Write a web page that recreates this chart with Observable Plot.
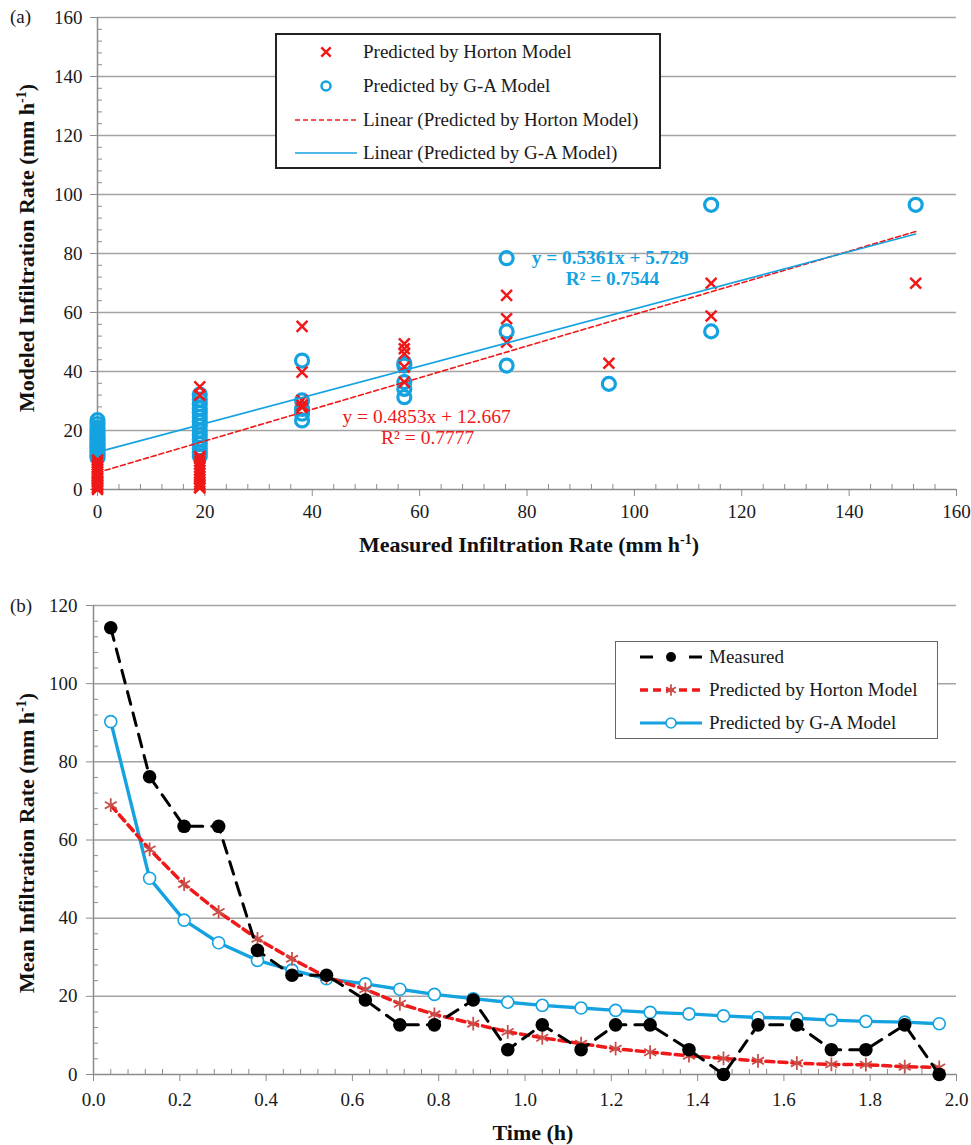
<!DOCTYPE html>
<html><head><meta charset="utf-8">
<script src="https://cdn.jsdelivr.net/npm/d3@7"></script>
<script src="https://cdn.jsdelivr.net/npm/@observablehq/plot@0.6"></script>
<style>
html,body{margin:0;padding:0;background:#fff;}
#wrap{position:relative;width:971px;height:1145px;overflow:hidden;font-family:"Liberation Serif","Times New Roman",serif;color:#1a1a1a;}
.panel{position:absolute;left:0;}
.legend{position:absolute;box-sizing:border-box;background:#fff;}
.row{position:absolute;left:0;right:0;height:24px;font-size:19px;white-space:nowrap;}
.row svg{position:absolute;top:2px;}
.row span{position:absolute;top:0;line-height:24px;}
.plabel{position:absolute;left:10px;font-size:19px;line-height:20px;}
</style></head>
<body><div id="wrap"></div>
<script>
// ---------------- Panel (a): modeled vs measured ----------------
const topXTicks = [0, 20, 40, 60, 80, 100, 120, 140, 160];
const topYTicks = [0, 20, 40, 60, 80, 100, 120, 140, 160];
const topMinorTicks = [4, 8, 12, 16, 24, 28, 32, 36, 44, 48, 52, 56, 64, 68, 72, 76, 84, 88, 92, 96, 104, 108, 112, 116, 124, 128, 132, 136, 144, 148, 152, 156];

// measured rate of each observation (mm/h)
const measuredTop = [
  0,0,0,0,0,0,0,0,0,0,0,0,0,0,0,0,
  19.05,19.05,19.05,19.05,19.05,19.05,19.05,19.05,19.05,19.05,19.05,19.05,19.05,19.05,19.05,
  38.1,38.1,38.1,38.1,38.1,
  57.15,57.15,57.15,57.15,57.15,
  76.2,76.2,76.2,
  95.25,
  114.3,114.3,
  152.4
];
const hortonTop = [
  0,0.5,1,1.5,2,2.5,3,3.8,4.5,5.2,6,6.8,7.5,8.3,9.2,10,
  0.5,1,1.8,2.5,3.5,4.5,5.5,6.5,7.5,8.5,9.5,10.5,11.2,32,34.8,
  55.3,39.8,30.2,28.6,27.8,
  49.4,47.7,46,41.5,36.4,
  65.8,57.9,49.9,
  42.8,
  69.9,58.8,
  69.9
];
const gaTop = [
  10.8,11.5,12.2,13,13.8,14.5,15.3,16,16.8,17.5,18.3,19.2,20,21,22.2,23.5,
  11.3,12.5,14,15.5,17,18.5,20,21.5,23,24.5,26,27.5,29,30.5,32.2,
  43.7,30.2,27.3,25.7,23.4,
  42,42.8,36.4,34.1,31.3,
  78.4,53.6,42,
  35.8,
  96.5,53.6,
  96.5
];
// linear fits as drawn (red dashed, blue solid)
const fitSlope = [0.5361, 0.4853];
const fitIntercept = [5.729, 12.667];
// equation labels (anchored in data units)
const eqBlueText = ["y = 0.5361x + 5.729", "R² = 0.7544"];
const eqBlueX = [95.5, 95.9];
const eqBlueY = [78.6, 71.5];
const eqRedText = ["y = 0.4853x + 12.667", "R² = 0.7777"];
const eqRedX = [61.3, 61.5];
const eqRedY = [24.8, 17.7];
const topLegendLabels = ["Predicted by Horton Model", "Predicted by G-A Model", "Linear (Predicted by Horton Model)", "Linear (Predicted by G-A Model)"];
const topXTitle = "Measured Infiltration Rate (mm h";
const topYTitle = "Modeled Infiltration Rate (mm h";

// ---------------- Panel (b): time series ----------------
const timeH = [0.04,0.13,0.21,0.29,0.38,0.46,0.54,0.63,0.71,0.79,0.88,0.96,1.04,1.13,1.21,1.29,1.38,1.46,1.54,1.63,1.71,1.79,1.88,1.96];
const measuredB = [114.3,76.2,63.5,63.5,31.75,25.4,25.4,19.05,12.7,12.7,19.05,6.35,12.7,6.35,12.7,12.7,6.35,0,12.7,12.7,6.35,6.35,12.7,0];
const hortonB = [68.9,57.6,48.7,41.6,34.7,29.6,24.9,21.8,18.1,15.4,13.0,10.9,9.4,7.9,6.6,5.7,4.8,4.1,3.5,2.9,2.6,2.5,2.0,1.8];
const gaB = [90.3,50.2,39.5,33.7,29.2,26.7,24.5,23.2,21.8,20.5,19.4,18.5,17.7,17.0,16.4,15.9,15.5,15.0,14.6,14.4,13.9,13.6,13.4,13.0];
const botXTicks = [0, 0.2, 0.4, 0.6, 0.8, 1.0, 1.2, 1.4, 1.6, 1.8, 2.0];
const botXMinor = [0.04,0.08,0.12,0.16,0.24,0.28,0.32,0.36,0.44,0.48,0.52,0.56,0.64,0.68,0.72,0.76,0.84,0.88,0.92,0.96,1.04,1.08,1.12,1.16,1.24,1.28,1.32,1.36,1.44,1.48,1.52,1.56,1.64,1.68,1.72,1.76,1.84,1.88,1.92,1.96];
const botYTicks = [0, 20, 40, 60, 80, 100, 120];
const botYMinor = [4,8,12,16,24,28,32,36,44,48,52,56,64,68,72,76,84,88,92,96,104,108,112,116];
const botLegendLabels = ["Measured", "Predicted by Horton Model", "Predicted by G-A Model"];
const botXTitle = "Time (h)";
const botYTitle = "Mean Infiltration Rate (mm h";

// ---------------- styles ----------------
const RED = "#f01818", BLUE = "#14a3e0", STAR = "#c8504a", GRID = "#a3a3a3", AXIS = "#8c8c8c", INK = "#1a1a1a";
const FONT = "'Liberation Serif', 'Times New Roman', serif";
const wrap = document.getElementById("wrap");

// ---------------- panel (a) ----------------
const topRows = measuredTop.map((x, i) => ({x, horton: hortonTop[i], ga: gaTop[i]}));
const fitX = d3.extent(measuredTop);
const fitRows = fitSlope.flatMap((m, k) => fitX.map(x => ({k, x, y: m * x + fitIntercept[k]})));
const eqBlue = eqBlueText.map((t, i) => ({t, x: eqBlueX[i], y: eqBlueY[i]}));
const eqRed = eqRedText.map((t, i) => ({t, x: eqRedX[i], y: eqRedY[i]}));

const svgA = Plot.plot({
  width: 971, height: 560,
  marginLeft: 97, marginRight: 15, marginTop: 17, marginBottom: 71,
  style: {fontFamily: FONT, fontSize: "19px", color: INK, background: "transparent", overflow: "visible"},
  x: {domain: [0, 160]},
  y: {domain: [0, 160]},
  marks: [
    Plot.gridY(topYTicks.slice(1), {stroke: GRID, strokeOpacity: 1, strokeWidth: 1.5}),
    Plot.axisY(topMinorTicks, {tickSize: 5, dx: 5, fill: "none", stroke: AXIS, label: null}),
    Plot.axisX(topMinorTicks, {tickSize: 5, dy: -5, fill: "none", stroke: AXIS, label: null}),
    Plot.axisY(topYTicks, {tickSize: 7, tickPadding: 8, stroke: AXIS, fill: INK, fontSize: 19, label: null}),
    Plot.axisX(topXTicks, {tickSize: 7, tickPadding: 8, stroke: AXIS, fill: INK, fontSize: 19, label: null}),
    Plot.ruleX([0], {stroke: AXIS, strokeWidth: 1.5}),
    Plot.ruleY([0], {stroke: AXIS, strokeWidth: 1.5}),
    Plot.dot(topRows, {x: "x", y: "ga", r: 6.5, stroke: BLUE, strokeWidth: 3.2, fill: "none"}),
    Plot.dot(topRows, {x: "x", y: "horton", symbol: "times", r: 5, stroke: RED, strokeWidth: 2.5}),
    Plot.line(fitRows.filter(d => d.k === 0), {x: "x", y: "y", stroke: RED, strokeWidth: 1.6, strokeDasharray: "5,3"}),
    Plot.line(fitRows.filter(d => d.k === 1), {x: "x", y: "y", stroke: BLUE, strokeWidth: 1.6}),
    Plot.text(eqBlue, {x: "x", y: "y", text: "t", fill: BLUE, fontWeight: "bold", fontSize: 19.3}),
    Plot.text(eqRed, {x: "x", y: "y", text: "t", fill: RED, fontSize: 19.5})
  ]
});
svgA.classList.add("panel");
svgA.style.top = "0px";
wrap.appendChild(svgA);

function axisTitle(svg, x, y, rot, main, sup) {
  const t = d3.select(svg).append("text")
    .attr("transform", `translate(${x},${y}) rotate(${rot})`)
    .attr("text-anchor", "middle").attr("font-family", FONT).attr("font-weight", "bold")
    .attr("font-size", 22).attr("fill", "#111");
  t.append("tspan").text(main);
  if (sup) {
    t.append("tspan").attr("dy", -8).attr("font-size", 14).text(sup);
    t.append("tspan").attr("dy", 8).text(")");
  }
}
axisTitle(svgA, 529, 552, 0, topXTitle, "-1");
axisTitle(svgA, 34, 248, -90, topYTitle, "-1");

// ---------------- panel (b) ----------------
const botRows = timeH.map((t, i) => ({t, measured: measuredB[i], horton: hortonB[i], ga: gaB[i]}));

const svgB = Plot.plot({
  width: 971, height: 560,
  marginLeft: 93, marginRight: 15, marginTop: 20, marginBottom: 71,
  style: {fontFamily: FONT, fontSize: "19px", color: INK, background: "transparent", overflow: "visible"},
  x: {domain: [0, 2]},
  y: {domain: [0, 120]},
  marks: [
    Plot.gridY(botYTicks.slice(1), {stroke: GRID, strokeOpacity: 1, strokeWidth: 1.5}),
    Plot.axisY(botYMinor, {tickSize: 5, dx: 5, fill: "none", stroke: AXIS, label: null}),
    Plot.axisX(botXMinor, {tickSize: 5, dy: -5, fill: "none", stroke: AXIS, label: null}),
    Plot.axisY(botYTicks, {tickSize: 7, tickPadding: 9, stroke: AXIS, fill: INK, fontSize: 19, label: null}),
    Plot.axisX(botXTicks, {tickSize: 7, tickPadding: 11, stroke: AXIS, fill: INK, fontSize: 19, label: null, tickFormat: d3.format(".1f")}),
    Plot.ruleX([0], {stroke: AXIS, strokeWidth: 1.5}),
    Plot.ruleY([0], {stroke: AXIS, strokeWidth: 1.5}),
    Plot.line(botRows, {x: "t", y: "ga", stroke: BLUE, strokeWidth: 3.4}),
    Plot.dot(botRows, {x: "t", y: "ga", r: 6, stroke: BLUE, strokeWidth: 1.6, fill: "white"}),
    Plot.line(botRows, {x: "t", y: "horton", stroke: RED, strokeWidth: 3.5, strokeDasharray: "8,5"}),
    Plot.dot(botRows, {x: "t", y: "horton", symbol: "asterisk", r: 6.5, stroke: STAR, strokeWidth: 1.8}),
    Plot.line(botRows, {x: "t", y: "measured", stroke: "#000", strokeWidth: 3, strokeDasharray: "13,9"}),
    Plot.dot(botRows, {x: "t", y: "measured", r: 6.8, fill: "#000"})
  ]
});
svgB.classList.add("panel");
svgB.style.top = "585px";
wrap.appendChild(svgB);
axisTitle(svgB, 533, 555, 0, botXTitle, null);
axisTitle(svgB, 34, 258, -90, botYTitle, "-1");

// ---------------- panel labels ----------------
[["(a)", 7], ["(b)", 596]].forEach(([t, top]) => {
  const d = document.createElement("div");
  d.className = "plabel"; d.style.top = top + "px"; d.textContent = t;
  wrap.appendChild(d);
});

// ---------------- legends ----------------
function legend({left, top, width, height, border, centers, symLeft, symWidth, textLeft, labels, draw}) {
  const box = document.createElement("div");
  box.className = "legend";
  Object.assign(box.style, {left: left + "px", top: top + "px", width: width + "px", height: height + "px", border});
  labels.forEach((lab, i) => {
    const row = document.createElement("div");
    row.className = "row";
    row.style.top = (centers[i] - 12) + "px";
    const s = d3.create("svg").attr("width", symWidth).attr("height", 20)
      .style("left", symLeft + "px").style("overflow", "visible");
    draw[i](s, symWidth);
    row.appendChild(s.node());
    const sp = document.createElement("span");
    sp.style.left = textLeft + "px";
    sp.textContent = lab;
    row.appendChild(sp);
    box.appendChild(row);
  });
  wrap.appendChild(box);
}

legend({
  left: 275, top: 33, width: 386, height: 136, border: "2px solid #222",
  centers: [17, 51, 85, 118], symLeft: 18, symWidth: 62, textLeft: 86,
  labels: topLegendLabels,
  draw: [
    (s, w) => s.append("path").attr("d", d3.symbol(d3.symbolTimes, 60)()).attr("transform", `translate(${w / 2},10)`)
      .attr("stroke", RED).attr("stroke-width", 2.5).attr("fill", "none"),
    (s, w) => s.append("circle").attr("cx", w / 2).attr("cy", 10).attr("r", 4.5).attr("stroke", BLUE).attr("stroke-width", 2.5).attr("fill", "none"),
    (s, w) => s.append("line").attr("x1", 0).attr("x2", w).attr("y1", 10).attr("y2", 10).attr("stroke", RED).attr("stroke-width", 1.6).attr("stroke-dasharray", "5,3"),
    (s, w) => s.append("line").attr("x1", 0).attr("x2", w).attr("y1", 10).attr("y2", 10).attr("stroke", BLUE).attr("stroke-width", 1.6)
  ]
});

legend({
  left: 615, top: 641, width: 323, height: 98, border: "1.5px solid #666",
  centers: [15, 48, 81], symLeft: 24, symWidth: 62, textLeft: 93,
  labels: botLegendLabels,
  draw: [
    (s, w) => {
      s.append("line").attr("x1", 0).attr("x2", 13).attr("y1", 10).attr("y2", 10).attr("stroke", "#000").attr("stroke-width", 3);
      s.append("line").attr("x1", w - 13).attr("x2", w).attr("y1", 10).attr("y2", 10).attr("stroke", "#000").attr("stroke-width", 3);
      s.append("circle").attr("cx", w / 2).attr("cy", 10).attr("r", 5).attr("fill", "#000");
    },
    (s, w) => {
      s.append("line").attr("x1", 0).attr("x2", w).attr("y1", 10).attr("y2", 10).attr("stroke", RED).attr("stroke-width", 3.5).attr("stroke-dasharray", "8,5");
      s.append("path").attr("d", d3.symbol(d3.symbolAsterisk, 90)()).attr("transform", `translate(${w / 2},10)`).attr("stroke", STAR).attr("stroke-width", 1.8).attr("fill", "none");
    },
    (s, w) => {
      s.append("line").attr("x1", 0).attr("x2", w).attr("y1", 10).attr("y2", 10).attr("stroke", BLUE).attr("stroke-width", 3.2);
      s.append("circle").attr("cx", w / 2).attr("cy", 10).attr("r", 5).attr("stroke", BLUE).attr("stroke-width", 1.6).attr("fill", "white");
    }
  ]
});
</script>
</body></html>
